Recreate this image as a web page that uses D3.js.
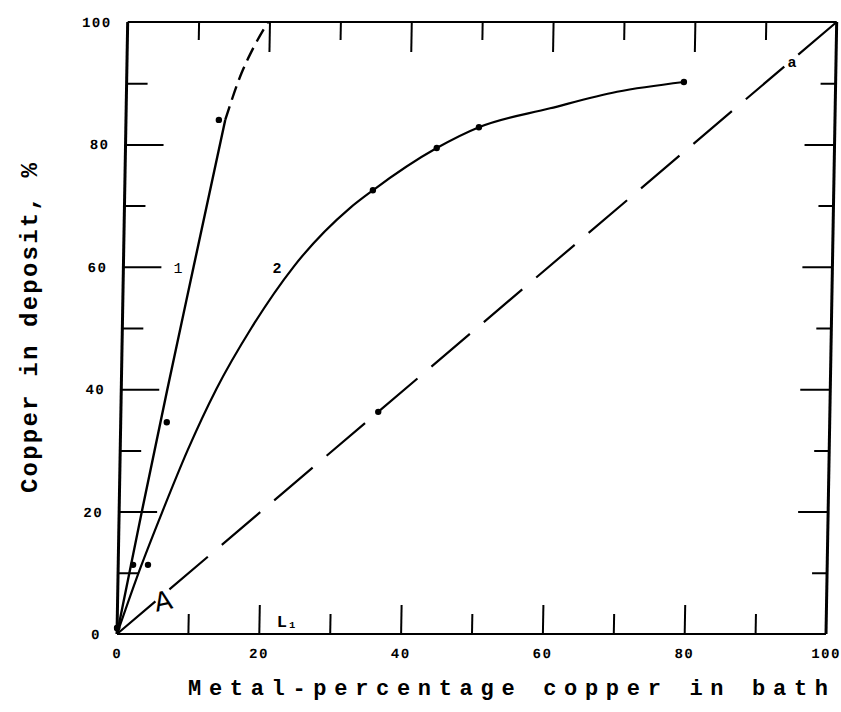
<!DOCTYPE html>
<html>
<head>
<meta charset="utf-8">
<script src="https://cdn.jsdelivr.net/npm/d3@7"></script>
<style>
  html, body { margin: 0; padding: 0; background: #fff; }
  svg { display: block; }
  .tick text { font-family: "Liberation Mono", "DejaVu Sans Mono", monospace; font-weight: bold; font-size: 14px; fill: #000; letter-spacing: 1.5px; }
  .tick line { stroke: #000; stroke-width: 2px; }
  .domain { display: none; }
</style>
</head>
<body>
<svg id="chart" width="841" height="712"></svg>
<script>
// Axis ticks
const majorTicks = [0, 20, 40, 60, 80, 100];
const minorTicks = [10, 30, 50, 70, 90];

// Curve 1: fitted line (solid part and dashed extrapolation) and measured points
const curve1Solid = [[0, 0], [3.2, 20], [6.5, 40], [9.9, 60], [14.0, 84]];
const curve1Dashed = [[14.0, 84], [16.2, 91.7], [17.8, 95.8], [19.8, 100]];
const curve1Points = [[0, 1], [2.1, 11.3], [6.5, 34.6], [13.1, 84]];

// Curve 2: fitted line and measured points
const curve2Line = [[0, 0], [3.2, 11], [6.1, 20], [9.5, 30], [13.4, 40], [18.2, 50],
  [24.0, 60], [31.8, 69.6], [35.0, 72.5], [43.9, 79.4], [49.8, 82.8], [59.8, 85.9],
  [69.2, 88.6], [78.6, 90.2]];
const curve2Points = [[0, 1], [4.2, 11.3], [35.0, 72.5], [43.9, 79.4], [49.8, 82.8], [78.6, 90.2]];

// Line a: deposit composition equal to bath composition
const lineA = [[0, 0], [100, 100]];
const lineAPoints = [[36.3, 36.3]];

const svg = d3.select("#chart");
const x = d3.scaleLinear().domain([0, 100]).range([117, 826]);
const y = d3.scaleLinear().domain([0, 100]).range([634, 22]);

// the whole frame leans slightly to the right toward the top
const g = svg.append("g")
  .attr("transform", `translate(0,${y(0)}) skewX(-1.0) translate(0,${-y(0)})`);

// frame
g.append("line").attr("x1", x(0)).attr("x2", x(100)).attr("y1", y(0)).attr("y2", y(0))
  .attr("stroke", "#000").attr("stroke-width", 2.2);
g.append("line").attr("x1", x(0)).attr("x2", x(100)).attr("y1", y(100)).attr("y2", y(100))
  .attr("stroke", "#000").attr("stroke-width", 2);
g.append("line").attr("x1", x(0)).attr("x2", x(0)).attr("y1", y(0)).attr("y2", y(100))
  .attr("stroke", "#000").attr("stroke-width", 3);
g.append("line").attr("x1", x(100)).attr("x2", x(100)).attr("y1", y(0)).attr("y2", y(100))
  .attr("stroke", "#000").attr("stroke-width", 3);

// bottom axis (ticks point inward)
g.append("g").attr("transform", `translate(0,${y(0)})`)
  .call(d3.axisBottom(x).tickValues(majorTicks).tickSize(-29).tickPadding(14).tickFormat(d3.format("d")))
  .call(s => s.selectAll(".tick").filter(d => d === 0 || d === 100).select("line").remove());
g.append("g").attr("transform", `translate(0,${y(0)})`)
  .call(d3.axisBottom(x).tickValues(minorTicks).tickSize(-20).tickFormat(""));

// top axis
g.append("g").attr("transform", `translate(0,${y(100)})`)
  .call(d3.axisTop(x).tickValues(majorTicks.slice(1, -1)).tickSize(-30).tickFormat(""));
g.append("g").attr("transform", `translate(0,${y(100)})`)
  .call(d3.axisTop(x).tickValues(minorTicks).tickSize(-18).tickFormat(""));

// left axis
g.append("g").attr("transform", `translate(${x(0)},0)`)
  .call(d3.axisLeft(y).tickValues(majorTicks).tickSize(-38).tickPadding(16).tickFormat(d3.format("d")))
  .call(s => s.selectAll(".tick").filter(d => d === 0 || d === 100).select("line").remove());
g.append("g").attr("transform", `translate(${x(0)},0)`)
  .call(d3.axisLeft(y).tickValues(minorTicks).tickSize(-21).tickFormat(""));

// right axis
g.append("g").attr("transform", `translate(${x(100)},0)`)
  .call(d3.axisRight(y).tickValues(majorTicks.slice(1, -1)).tickSize(-30).tickFormat(""));
g.append("g").attr("transform", `translate(${x(100)},0)`)
  .call(d3.axisRight(y).tickValues(minorTicks).tickSize(-15).tickFormat(""));

// curves
const line = d3.line().x(d => x(d[0])).y(d => y(d[1]));
const smooth = d3.line().x(d => x(d[0])).y(d => y(d[1])).curve(d3.curveMonotoneX);

// dash period chosen so the last dash runs into the top-right corner
g.append("path").datum(lineA).attr("d", line)
  .attr("fill", "none").attr("stroke", "#000").attr("stroke-width", 2.2)
  .attr("stroke-dasharray", "50,18.2");

g.append("path").datum(curve1Solid).attr("d", smooth)
  .attr("fill", "none").attr("stroke", "#000").attr("stroke-width", 2.4);
g.append("path").datum(curve1Dashed).attr("d", smooth)
  .attr("fill", "none").attr("stroke", "#000").attr("stroke-width", 2.4)
  .attr("stroke-dasharray", "14,7");

g.append("path").datum(curve2Line).attr("d", smooth)
  .attr("fill", "none").attr("stroke", "#000").attr("stroke-width", 2.2);

// measured points
const pts = [].concat(curve1Points, curve2Points, lineAPoints);
g.selectAll("circle.pt").data(pts).join("circle").attr("class", "pt")
  .attr("cx", d => x(d[0])).attr("cy", d => y(d[1])).attr("r", 3.2).attr("fill", "#000");

// curve labels
const lab = svg.append("g").attr("font-family", "'Liberation Mono', monospace").attr("fill", "#000");
lab.append("text").attr("x", 178).attr("y", 273).attr("font-size", 15).attr("text-anchor", "middle").text("1");
lab.append("text").attr("x", 277).attr("y", 273).attr("font-size", 15).attr("font-weight", "bold").attr("text-anchor", "middle").text("2");
lab.append("text").attr("x", 792).attr("y", 67).attr("font-size", 15).attr("font-weight", "bold").attr("text-anchor", "middle").text("a");
lab.append("text").attr("x", 163).attr("y", 610).attr("font-size", 26).attr("font-family", "'DejaVu Sans', sans-serif")
  .attr("text-anchor", "middle").attr("transform", "rotate(-12,163,600)").text("A");
lab.append("text").attr("x", 287).attr("y", 627).attr("font-size", 17).attr("font-weight", "bold").attr("text-anchor", "middle").text("L₁");

// axis titles
svg.append("text").attr("x", 188).attr("y", 695)
  .attr("font-family", "'Liberation Mono', monospace").attr("font-weight", "bold").attr("font-size", 22)
  .attr("textLength", 640).attr("lengthAdjust", "spacing")
  .text("Metal-percentage copper in bath");
svg.append("text").attr("transform", "translate(37,328) rotate(-90)").attr("text-anchor", "middle")
  .attr("font-family", "'Liberation Mono', monospace").attr("font-weight", "bold").attr("font-size", 24)
  .attr("textLength", 330).attr("lengthAdjust", "spacing")
  .text("Copper in deposit, %");
</script>
</body>
</html>
